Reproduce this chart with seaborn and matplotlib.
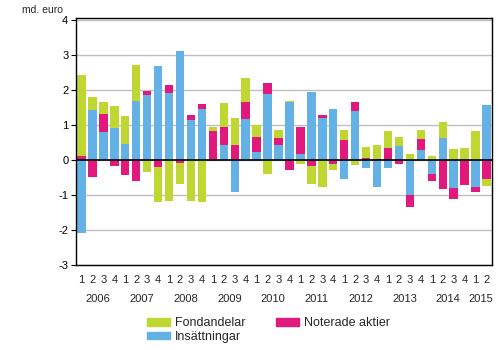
import numpy as np
import pandas as pd
import matplotlib
matplotlib.use("Agg")
import matplotlib.pyplot as plt
import matplotlib.transforms as mtransforms
from matplotlib.patches import Patch
import seaborn as sns

years = ["2006", "2007", "2008", "2009", "2010", "2011", "2012", "2013", "2014", "2015"]
quarters = ["1", "2", "3", "4"] * 9 + ["1", "2"]

insattningar = [-2.09, 1.44, 0.81, 0.92, 0.47, 1.70, 1.86, 2.69,
                1.92, 3.12, 1.16, 1.46, -0.04, 0.44, -0.90, 1.18,
                0.24, 1.89, 0.44, 1.66, 0.18, 1.95, 1.21, 1.46,
                -0.55, 1.41, -0.24, -0.78, -0.24, 0.41, -0.99, 0.29,
                -0.41, 0.64, -0.81, 0.02, -0.78, 1.58]
noterade = [0.13, -0.49, 0.51, -0.18, -0.44, -0.59, 0.13, -0.21,
            0.23, -0.08, 0.13, 0.15, 0.84, 0.51, 0.44, 0.48,
            0.43, 0.32, 0.20, -0.27, 0.77, -0.18, 0.08, -0.12,
            0.58, 0.26, 0.07, 0.04, 0.35, -0.12, -0.36, 0.32,
            -0.20, -0.84, -0.31, -0.72, -0.14, -0.55]
fondandelar = [2.30, 0.37, 0.34, 0.63, 0.79, 1.02, -0.33, -1.00,
               -1.16, -0.59, -1.16, -1.21, 0.11, 0.68, 0.77, 0.69,
               0.34, -0.41, 0.23, 0.03, -0.10, -0.49, -0.76, -0.15,
               0.29, -0.15, 0.31, 0.40, 0.49, 0.26, 0.18, 0.26,
               0.12, 0.45, 0.32, 0.33, 0.84, -0.20]

series = [("Insättningar", insattningar, "#63b1e5"),
          ("Noterade aktier", noterade, "#e2197c"),
          ("Fondandelar", fondandelar, "#c0d732")]

n = len(quarters)
labels = [f"q{i:02d}" for i in range(n)]

sns.set_style("white")
plt.rcParams["font.family"] = ["Liberation Sans", "DejaVu Sans"]

fig = plt.figure(figsize=(5, 3.5), dpi=100)
ax = fig.add_axes([0.152, 0.243, 0.832, 0.707])

pos = np.zeros(n)
neg = np.zeros(n)
for name, vals, col in series:
    v = np.array(vals, dtype=float)
    bottom = np.where(v >= 0, pos, neg)
    df = pd.DataFrame({"q": labels, "v": v})
    sns.barplot(data=df, x="q", y="v", order=labels, color=col, saturation=1,
                errorbar=None, width=0.77, bottom=bottom, linewidth=0, ax=ax)
    pos = pos + np.where(v >= 0, v, 0)
    neg = neg + np.where(v < 0, v, 0)

ax.set_ylim(-3, 4.08)
ax.set_xlim(-0.5, n - 0.5)
ax.set_yticks(range(-3, 5))
ax.set_yticklabels([str(t) for t in range(-3, 5)], fontsize=8)
ax.yaxis.grid(True, color="#c0c0c0", linewidth=1)
ax.set_axisbelow(True)
ax.axhline(0, color="black", linewidth=1.2, zorder=5)
ax.tick_params(axis="y", left=True, length=3.5, width=0.8, pad=2, colors="black")
ax.set_xticks(range(n))
ax.set_xticklabels(quarters, fontsize=8)
ax.tick_params(axis="x", bottom=False, pad=4)
ax.set_xlabel("")
ax.set_ylabel("")
for s in ax.spines.values():
    s.set_color("black")
    s.set_linewidth(1)

trans = mtransforms.blended_transform_factory(ax.transData, ax.transAxes)
for i, y in enumerate(years):
    start = i * 4
    end = min(start + 3, n - 1)
    ax.text((start + end) / 2, -0.137, y, transform=trans, ha="center", va="center", fontsize=8)

fig.text(0.044, 0.971, "md. euro", fontsize=7.5, ha="left", va="center")

handles = [Patch(color="#c0d732", label="Fondandelar"),
           Patch(color="#63b1e5", label="Insättningar"),
           Patch(color="#e2197c", label="Noterade aktier")]
fig.legend(handles=handles, ncol=2, loc="center left", bbox_to_anchor=(0.294, 0.057),
           frameon=False, fontsize=9, handlelength=1.85, handleheight=0.5,
           handletextpad=0.35, columnspacing=2.5, labelspacing=0.1, borderpad=0,
           borderaxespad=0)

fig.savefig("out.png", dpi=100)
